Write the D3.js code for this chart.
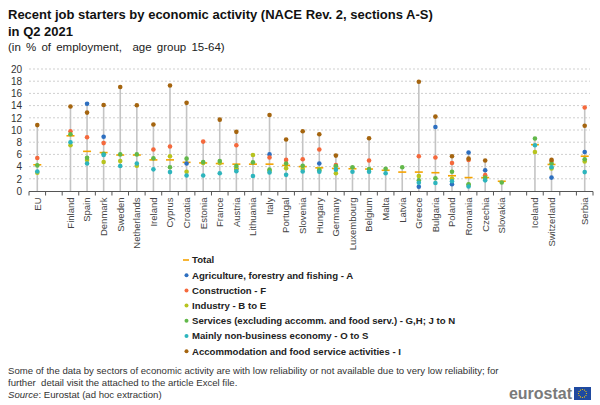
<!DOCTYPE html>
<html><head><meta charset="utf-8">
<script src="https://cdn.jsdelivr.net/npm/d3@7"></script>
<style>body{margin:0;background:#fff}svg{display:block;font-family:"Liberation Sans",Arial,sans-serif}</style>
</head><body>
<svg id="c" width="600" height="405"></svg>
<script>
const categories = ["EU","Finland","Spain","Denmark","Sweden","Netherlands","Ireland","Cyprus","Croatia","Estonia","France","Austria","Lithuania","Italy","Portugal","Slovenia","Hungary","Germany","Luxembourg","Belgium","Malta","Latvia","Greece","Bulgaria","Poland","Romania","Czechia","Slovakia","Iceland","Switzerland","Serbia"];
// positions with gaps (null = empty slot)
const slots = ["EU",null,"Finland","Spain","Denmark","Sweden","Netherlands","Ireland","Cyprus","Croatia","Estonia","France","Austria","Lithuania","Italy","Portugal","Slovenia","Hungary","Germany","Luxembourg","Belgium","Malta","Latvia","Greece","Bulgaria","Poland","Romania","Czechia","Slovakia",null,"Iceland","Switzerland",null,"Serbia"];
const total =         [4.3,9.05,6.5,6.3,5.9,5.9,5.1,5.1,4.7,4.6,4.5,4.4,4.4,4.4,4.2,4.0,3.8,3.7,3.65,3.6,3.4,3.1,3.1,3.0,2.5,2.2,2.2,1.6,7.6,4.35,5.7];
const agriculture =   [null,null,14.3,8.9,null,null,null,null,4.5,null,null,3.6,null,6.0,null,null,4.5,null,null,null,null,null,0.7,10.5,1.1,6.3,3.4,null,null,2.2,6.4];
const construction =  [5.4,9.8,8.8,7.85,null,null,6.8,7.3,null,8.1,null,7.5,null,5.5,5.1,5.2,6.8,4.25,null,5.0,null,null,5.7,5.5,4.6,5.1,2.6,null,null,4.9,13.7];
const industry =      [3.0,7.5,5.1,4.75,4.9,4.15,null,5.7,3.15,4.6,4.6,3.7,5.9,3.3,3.75,3.6,3.6,2.9,null,null,null,null,2.45,null,2.0,1.0,2.0,null,6.4,3.7,4.85];
const services =      [4.2,9.3,5.45,6.1,6.0,6.0,5.35,3.9,5.3,4.75,4.9,4.1,4.7,3.5,4.5,4.15,3.4,4.1,3.9,3.6,3.65,3.9,1.75,2.1,3.15,1.1,2.2,1.4,8.6,4.5,5.2];
const nonbusiness =   [3.2,8.0,4.5,5.9,4.1,4.5,3.55,3.1,2.55,2.55,2.9,3.25,2.45,3.05,2.65,3.2,3.15,3.5,3.15,3.15,2.9,null,1.35,1.3,1.6,0.75,1.75,null,7.5,3.9,3.1];
const accommodation = [10.8,13.85,12.85,14.1,17.05,14.05,10.9,17.3,14.45,null,11.7,9.7,null,12.45,8.45,9.8,9.3,5.8,null,8.65,null,null,17.9,12.2,5.7,5.3,5.0,null,null,5.1,10.7];
const yTicks = [0,2,4,6,8,10,12,14,16,18,20];
const seriesNames = ["Agriculture, forestry and fishing - A","Construction - F","Industry - B to E","Services (excluding accomm. and food serv.) - G,H; J to N","Mainly non-business economy - O to S","Accommodation and food service activities - I"];
const seriesData = [agriculture,construction,industry,services,nonbusiness,accommodation];
const seriesColors = ["#2d6fc0","#f5693c","#b7c31f","#62b84a","#2db5bd","#a5650f"];
const totalColor = "#f5a300";

const svg = d3.select("#c");
const x = d3.scaleBand().domain(d3.range(slots.length)).range([29,593]).padding(0);
const y = d3.scaleLinear().domain([0,20]).range([191,69]);
const xc = name => x(slots.indexOf(name)) + x.bandwidth()/2;

// title
svg.append("text").attr("x",8).attr("y",19).attr("font-size",13).attr("font-weight","bold").attr("fill","#111").text("Recent job starters by economic activity (NACE Rev. 2, sections A-S)");
svg.append("text").attr("x",8).attr("y",36).attr("font-size",13).attr("font-weight","bold").attr("fill","#111").text("in Q2 2021");
svg.append("text").attr("x",8).attr("y",51).attr("font-size",11.5).attr("word-spacing",2).style("white-space","pre").attr("fill","#222").text("(in % of employment,  age group 15-64)");

// grid
const g = svg.append("g");
g.selectAll("line.grid").data(yTicks.filter(d=>d>0)).join("line")
  .attr("x1",29).attr("x2",590).attr("y1",d=>y(d)).attr("y2",d=>y(d))
  .attr("stroke","#cfcfcf").attr("stroke-dasharray","2,2").attr("stroke-width",1);
// y labels
const yAxis = d3.axisLeft(y).tickValues(yTicks).tickSize(0).tickPadding(0);
const ya = svg.append("g").attr("transform","translate(22,0)").call(yAxis);
ya.select(".domain").remove();
ya.selectAll("text").attr("font-size",10).attr("fill","#333").attr("font-family","Liberation Sans, Arial, sans-serif");

// x axis
const xAxis = d3.axisBottom(x).tickSize(0).tickFormat(i => slots[i] || "");
const xa = svg.append("g").attr("transform","translate(0,191.5)").call(xAxis);
xa.select(".domain").attr("stroke","#555").attr("d","M29,0H593");
xa.selectAll("text").attr("font-size",9.5).attr("fill","#444").attr("font-family","Liberation Sans, Arial, sans-serif")
  .attr("text-anchor","end").attr("transform","rotate(-90)").attr("x",-6).attr("y",0).attr("dy","0.35em");
// boundary ticks
xa.selectAll("line.bt").data(d3.range(slots.length+1)).join("line").attr("class","bt")
  .attr("x1",i=>29+i*x.bandwidth()).attr("x2",i=>29+i*x.bandwidth()).attr("y1",0).attr("y2",4)
  .attr("stroke","#555").attr("stroke-width",1);

// vertical lines from 0 to max
const maxes = categories.map((c,i)=>d3.max([total[i],...seriesData.map(s=>s[i])].filter(v=>v!=null)));
svg.append("g").selectAll("line").data(categories).join("line")
  .attr("x1",d=>xc(d)).attr("x2",d=>xc(d)).attr("y1",y(0)).attr("y2",(d,i)=>y(maxes[i]))
  .attr("stroke","#c4c4c4").attr("stroke-width",1.6);

// total dashes
svg.append("g").selectAll("line").data(categories).join("line")
  .attr("x1",d=>xc(d)-4).attr("x2",d=>xc(d)+4).attr("y1",(d,i)=>y(total[i])).attr("y2",(d,i)=>y(total[i]))
  .attr("stroke",totalColor).attr("stroke-width",1.6);

// dots
seriesData.forEach((s,k)=>{
  svg.append("g").selectAll("circle").data(categories.map((c,i)=>({c,v:s[i]})).filter(d=>d.v!=null)).join("circle")
    .attr("cx",d=>xc(d.c)).attr("cy",d=>y(d.v)).attr("r",2.3).attr("fill",seriesColors[k]);
});

// legend
const lg = svg.append("g");
const ly0 = 260, ldy = 15.2;
lg.append("line").attr("x1",183).attr("x2",189).attr("y1",ly0).attr("y2",ly0).attr("stroke",totalColor).attr("stroke-width",1.6);
lg.append("text").attr("x",192).attr("y",ly0).attr("dy","0.35em").attr("font-size",9.6).attr("font-weight","bold").attr("fill","#222").text("Total");
seriesNames.forEach((n,k)=>{
  const yy = ly0 + ldy*(k+1);
  lg.append("circle").attr("cx",186.5).attr("cy",yy).attr("r",2).attr("fill",seriesColors[k]);
  lg.append("text").attr("x",192).attr("y",yy).attr("dy","0.35em").attr("font-size",9.6).attr("font-weight","bold").attr("fill","#222").text(n);
});

// footer
svg.append("text").attr("x",8).attr("y",374).attr("font-size",9.6).attr("fill","#333").text("Some of the data by sectors of economic activity are with low reliability or not available due to very low reliability; for");
svg.append("text").attr("x",8).attr("y",385.5).attr("font-size",9.6).attr("fill","#333").style("white-space","pre").text("further  detail visit the attached to the article Excel file.");
const src = svg.append("text").attr("x",8).attr("y",398).attr("font-size",9.6).attr("fill","#333");
src.append("tspan").attr("font-style","italic").text("Source");
src.append("tspan").text(": Eurostat (ad hoc extraction)");

// logo
svg.append("text").attr("x",572).attr("y",399).attr("text-anchor","end").attr("font-size",16).attr("font-weight","bold").attr("fill","#7a7a7a").text("eurostat");
svg.append("rect").attr("x",574).attr("y",387).attr("width",17).attr("height",13).attr("fill","#1f4aa0");
d3.range(12).forEach(i=>{
  const a = i/12*2*Math.PI;
  svg.append("circle").attr("cx",582.5+4*Math.cos(a)).attr("cy",393.5+4*Math.sin(a)).attr("r",0.6).attr("fill","#ffd200");
});
</script>
</body></html>
